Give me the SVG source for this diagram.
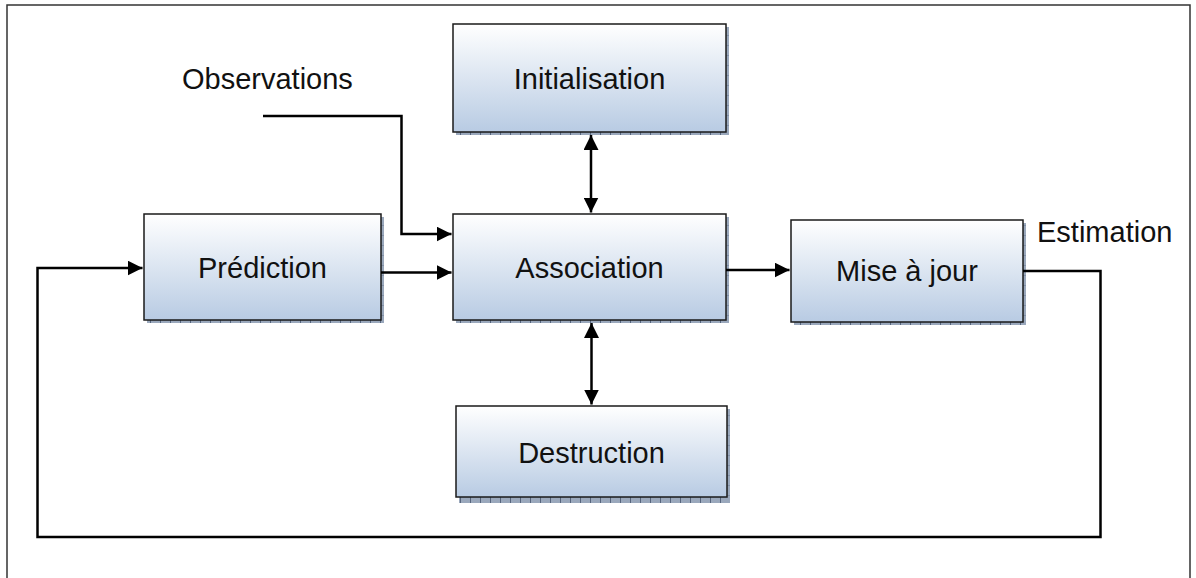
<svg xmlns="http://www.w3.org/2000/svg" width="1196" height="578" viewBox="0 0 1196 578">
<style>
.box{fill:url(#g);stroke:#1a1a1a;stroke-width:1.5}
.sh{fill:url(#hatch)}
.lbl{font-family:"Liberation Sans",Arial,sans-serif;font-size:29px;fill:#111;text-anchor:middle}
.free{font-family:"Liberation Sans",Arial,sans-serif;font-size:29px;fill:#111}
.ln{fill:none;stroke:#000;stroke-width:2.5}
.frame{fill:none;stroke:#333;stroke-width:1.5}
</style>
<defs>
<linearGradient id="g" x1="0" y1="0" x2="0" y2="1">
<stop offset="0" stop-color="#ffffff"/>
<stop offset="1" stop-color="#b8cbe3"/>
</linearGradient>
<pattern id="hatch" width="10" height="10" patternUnits="userSpaceOnUse">
<rect width="10" height="10" fill="#9aa8bc"/>
<rect width="1" height="10" fill="#56657d"/>
<rect y="5" width="10" height="1" fill="#8290a6"/>
</pattern>
<marker id="ah" markerWidth="6" markerHeight="6" refX="6" refY="3" orient="auto-start-reverse" markerUnits="strokeWidth">
<path d="M0,0 L6,3 L0,6 Z" fill="#000"/>
</marker>
</defs>
<path class="frame" d="M7,578 V5 H1190 V578"/>
<g id="initialisation">
<rect class="sh" x="456" y="27" width="273" height="108"/>
<rect class="box" x="453" y="24" width="273" height="108"/>
<text class="lbl" x="589.5" y="89">Initialisation</text>
</g>
<g id="prediction">
<rect class="sh" x="147" y="217" width="237" height="106"/>
<rect class="box" x="144" y="214" width="237" height="106"/>
<text class="lbl" x="262.5" y="278">Prédiction</text>
</g>
<g id="association">
<rect class="sh" x="456" y="217" width="273" height="106"/>
<rect class="box" x="453" y="214" width="273" height="106"/>
<text class="lbl" x="589.5" y="278">Association</text>
</g>
<g id="miseajour">
<rect class="sh" x="794" y="223" width="232" height="102"/>
<rect class="box" x="791" y="220" width="232" height="102"/>
<text class="lbl" x="907" y="281">Mise à jour</text>
</g>
<g id="destruction">
<rect class="sh" x="459" y="409" width="271" height="94"/>
<rect class="box" x="456" y="406" width="271" height="91"/>
<text class="lbl" x="591.5" y="463">Destruction</text>
</g>
<g id="labels">
<text class="free" x="182" y="89">Observations</text>
<text class="free" x="1037" y="242">Estimation</text>
</g>
<g id="connectors">
<path class="ln" d="M263,116 H401.5 V234 H451.5" marker-end="url(#ah)"/>
<path class="ln" d="M381,272.5 H451.5" marker-end="url(#ah)"/>
<path class="ln" d="M726,270 H789.5" marker-end="url(#ah)"/>
<path class="ln" d="M1023,271 H1100.5 V537 H37.5 V268 H142.5" marker-end="url(#ah)"/>
<path class="ln" d="M591,135 V212.5" marker-start="url(#ah)" marker-end="url(#ah)"/>
<path class="ln" d="M591.5,323 V404.5" marker-start="url(#ah)" marker-end="url(#ah)"/>
</g>
</svg>
